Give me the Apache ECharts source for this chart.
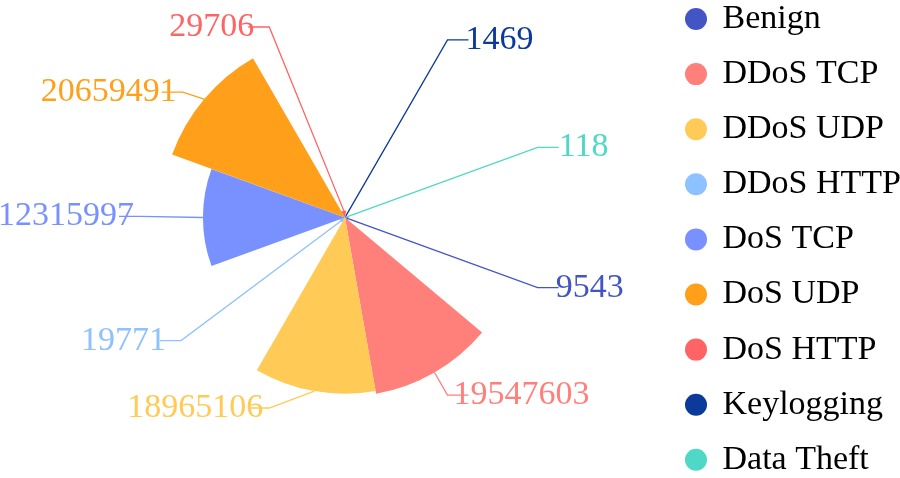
<!DOCTYPE html>
<html>
<head>
<meta charset="utf-8">
<script src="https://cdn.jsdelivr.net/npm/echarts@6/dist/echarts.min.js"></script>
<style>
  html, body { margin: 0; padding: 0; background: #fff; }
  #chart { width: 900px; height: 478px; }
</style>
</head>
<body>
<div id="chart"></div>
<script>
// traffic classes and record counts
const categories = ['Benign', 'DDoS TCP', 'DDoS UDP', 'DDoS HTTP', 'DoS TCP', 'DoS UDP', 'DoS HTTP', 'Keylogging', 'Data Theft'];
const counts = [9543, 19547603, 18965106, 19771, 12315997, 20659491, 29706, 1469, 118];
const colors = ['#4355c5', '#ff7f7a', '#ffca55', '#8dc1ff', '#7891ff', '#ff9f1a', '#ff6464', '#0b3a9b', '#4ed8c5'];

const serif = "'Times New Roman', 'Liberation Serif', serif";
const R = 184, LEN = 21, LEN2 = 21;

const chart = echarts.init(document.getElementById('chart'));

// keep the label bends on a circle (older echarts placement), y comes from the library
function placeLabel(params) {
  const pts = params.labelLinePoints;
  if (!pts) return {};
  const lay = chart.getModel().getSeriesByIndex(0).getData().getItemLayout(params.dataIndex);
  const cx = lay.cx, cy = lay.cy;
  const dir = pts[1][0] < cx ? -1 : 1;
  const y = pts[1][1];
  const rr = R + LEN;
  const dy = y - cy;
  const bx = cx + dir * Math.sqrt(Math.max(0, rr * rr - dy * dy));
  const ex = bx + dir * LEN2;
  const overlap = Math.max(0, String(counts[params.dataIndex]).length - 3) * 3;
  return {
    x: ex - dir * overlap,
    y: y,
    align: dir < 0 ? 'right' : 'left',
    verticalAlign: 'middle',
    labelLinePoints: [pts[0], [bx, y], [ex, y]]
  };
}

chart.setOption({
  animation: false,
  legend: {
    orient: 'vertical',
    left: 685,
    top: 2,
    padding: 0,
    icon: 'circle',
    itemWidth: 43,
    itemHeight: 22,
    itemGap: 21.1,
    textStyle: { fontFamily: serif, fontSize: 34, color: '#000' }
  },
  series: [{
    type: 'pie',
    roseType: 'area',
    startAngle: 0,
    left: 0,
    right: 210,
    top: 9,
    bottom: 52,
    center: ['50%', '50%'],
    radius: [0, R],
    label: {
      show: true,
      position: 'outside',
      fontFamily: serif,
      fontSize: 34,
      overflow: 'none',
      // sector area follows the count, the text shows the raw count
      formatter: p => String(counts[p.dataIndex])
    },
    labelLine: { show: true, length: LEN, length2: LEN2, lineStyle: { width: 1.3 } },
    labelLayout: placeLabel,
    data: categories.map((name, i) => ({
      name,
      value: Math.sqrt(counts[i]),
      itemStyle: { color: colors[i] },
      label: { color: colors[i] }
    }))
  }]
});
</script>
</body>
</html>
